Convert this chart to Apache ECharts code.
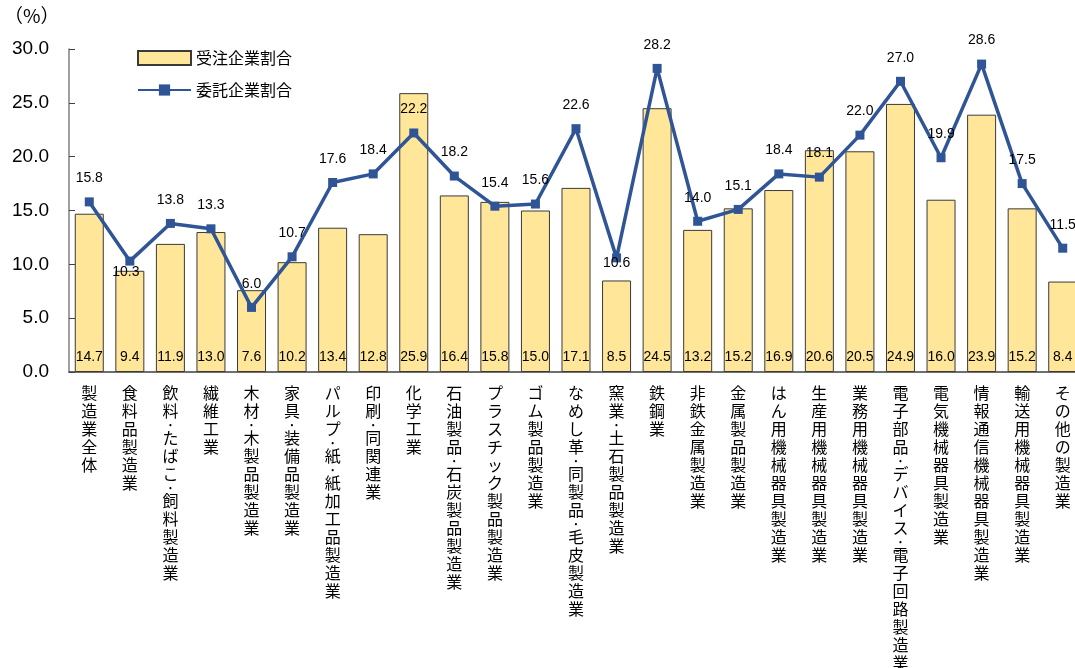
<!DOCTYPE html>
<html>
<head>
<meta charset="utf-8">
<script src="https://cdn.jsdelivr.net/npm/echarts@6/dist/echarts.min.js"></script>
<style>
html,body{margin:0;padding:0;background:#fff;}
#main{width:1075px;height:668px;}
</style>
</head>
<body>
<div id="main"></div>
<script>
// 業種
var categories = ['製造業全体','食料品製造業','飲料・たばこ・飼料製造業','繊維工業','木材・木製品製造業',
  '家具・装備品製造業','パルプ・紙・紙加工品製造業','印刷・同関連業','化学工業','石油製品・石炭製品製造業',
  'プラスチック製品製造業','ゴム製品製造業','なめし革・同製品・毛皮製造業','窯業・土石製品製造業','鉄鋼業',
  '非鉄金属製造業','金属製品製造業','はん用機械器具製造業','生産用機械器具製造業','業務用機械器具製造業',
  '電子部品・デバイス・電子回路製造業','電気機械器具製造業','情報通信機械器具製造業','輸送用機械器具製造業','その他の製造業'];
// 受注企業割合（棒）
var juchu = [14.7, 9.4, 11.9, 13.0, 7.6, 10.2, 13.4, 12.8, 25.9, 16.4, 15.8, 15.0, 17.1, 8.5, 24.5,
  13.2, 15.2, 16.9, 20.6, 20.5, 24.9, 16.0, 23.9, 15.2, 8.4];
// 委託企業割合（折れ線）
var itaku = [15.8, 10.3, 13.8, 13.3, 6.0, 10.7, 17.6, 18.4, 22.2, 18.2, 15.4, 15.6, 22.6, 10.6, 28.2,
  14.0, 15.1, 18.4, 18.1, 22.0, 27.0, 19.9, 28.6, 17.5, 11.5];

var numFont = '"Liberation Sans", Arial, sans-serif';
var myChart = echarts.init(document.getElementById('main'));

//縦書きラベル
var verticalLabel = function(v){
  var out = [];
  for (var i = 0; i < v.length; i++) {
    var c = v.charAt(i);
    if (c === '・') out.push('{d|·}');
    else out.push('{c|' + c + '}');
  }
  return out.join('\n');
};

//折れ線のラベル位置（一部は点の下）
var lineData = itaku.map(function(v, i){
  if (i === 1) return {value: v, label: {position: 'bottom', distance: 0, offset: [-4, 0]}};
  if (i === 13) return {value: v, label: {position: 'bottom', distance: -6}};
  return v;
});

var option = {
  animation: false,
  textStyle: {fontFamily: '"Noto Sans CJK JP", sans-serif'},
  grid: {left: 69, top: 49, width: 1014, height: 323, outerBoundsMode: 'none', containLabel: false},
  legend: {
    left: 132, top: 45, orient: 'vertical', itemGap: 16,
    itemWidth: 53, itemHeight: 14,
    textStyle: {fontSize: 16, color: '#000'},
    data: [
      {name: '受注企業割合', icon: 'rect'},
      {name: '委託企業割合'}
    ]
  },
  graphic: [{
    type: 'text', left: 4, top: 6,
    style: {text: '（%）', fontSize: 19, fontFamily: '"Noto Sans CJK JP"', fill: '#000'}
  }],
  xAxis: {
    type: 'category',
    data: categories,
    axisLine: {lineStyle: {color: '#404040', width: 1.5}},
    axisTick: {show: false},
    axisLabel: {
      interval: 0, margin: 12, verticalAlign: 'top',
      formatter: verticalLabel,
      rich: {
        c: {fontSize: 16, lineHeight: 18, color: '#000'},
        d: {fontSize: 16, lineHeight: 9, color: '#000'}
      }
    }
  },
  yAxis: {
    type: 'value', min: 0, max: 30, interval: 5,
    axisLine: {show: true, lineStyle: {color: '#808080', width: 1.5}},
    axisTick: {show: true, inside: true, length: 6, lineStyle: {color: '#404040'}},
    splitLine: {show: false},
    axisLabel: {fontSize: 19, fontFamily: numFont, color: '#000', margin: 20,
      formatter: function(v){ return v.toFixed(1); }}
  },
  series: [{
    name: '受注企業割合', type: 'bar', data: juchu, barWidth: '71.5%',
    itemStyle: {color: '#FFE699', borderColor: '#3a3a3a', borderWidth: 1},
    label: {show: true, position: 'insideBottom', distance: 8, fontSize: 14, fontFamily: numFont, color: '#000',
      formatter: function(p){ return p.value.toFixed(1); }}
  }, {
    name: '委託企業割合', type: 'line', data: lineData,
    symbol: 'rect', symbolSize: 9,
    lineStyle: {color: '#2F5597', width: 3.5},
    itemStyle: {color: '#2F5597'},
    label: {show: true, position: 'top', distance: 12, fontSize: 14, fontFamily: numFont, color: '#000',
      formatter: function(p){ return Number(p.value).toFixed(1); }}
  }]
};
myChart.setOption(option);
</script>
</body>
</html>
